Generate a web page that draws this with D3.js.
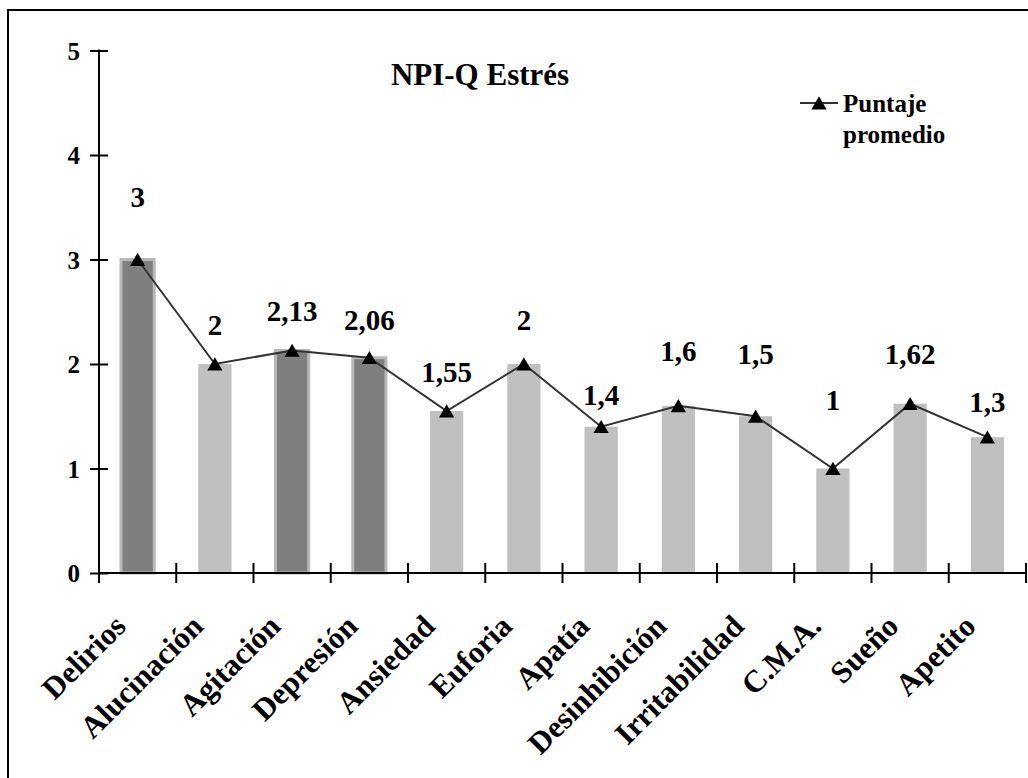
<!DOCTYPE html>
<html>
<head>
<meta charset="utf-8">
<script src="https://cdn.jsdelivr.net/npm/d3@7"></script>
<style>
  body { margin: 0; background: #fff; }
</style>
</head>
<body>
<svg id="chart" width="1028" height="778"></svg>
<script>
// NPI-Q: average distress score per neuropsychiatric domain
const categories = ["Delirios", "Alucinación", "Agitación", "Depresión", "Ansiedad", "Euforia",
                    "Apatía", "Desinhibición", "Irritabilidad", "C.M.A.", "Sueño", "Apetito"];
const scores = [3, 2, 2.13, 2.06, 1.55, 2, 1.4, 1.6, 1.5, 1, 1.62, 1.3];
const valueLabels = ["3", "2", "2,13", "2,06", "1,55", "2", "1,4", "1,6", "1,5", "1", "1,62", "1,3"];
// domains drawn with the darker bar shade
const highlighted = ["Delirios", "Agitación", "Depresión"];
const yTicks = [0, 1, 2, 3, 4, 5];
// vertical offset (px) of each value label baseline above its marker
const labelLift = [53, 29, 29.5, 28, 29, 34, 22, 45, 52, 59, 40, 25];

const FONT = "Liberation Serif";
const svg = d3.select("#chart");

// outer frame (left and top edges visible)
svg.append("rect")
  .attr("x", 8).attr("y", 10)
  .attr("width", 1040).attr("height", 800)
  .attr("fill", "none").attr("stroke", "#000").attr("stroke-width", 2);

const x = d3.scaleBand().domain(categories).range([99, 1026]).paddingInner(0.57).paddingOuter(0.285);
const xStep = d3.scalePoint().domain(d3.range(categories.length + 1)).range([99, 1026]);
const y = d3.scaleLinear().domain([0, 5]).range([573, 50.5]);

// bars
svg.append("g").selectAll("rect")
  .data(categories)
  .join("rect")
  .attr("x", d => x(d))
  .attr("y", (d, i) => y(scores[i]))
  .attr("width", x.bandwidth())
  .attr("height", (d, i) => y(0) - y(scores[i]))
  .attr("fill", d => highlighted.includes(d) ? "#7f7f7f" : "#c0c0c0")
  .attr("stroke", d => highlighted.includes(d) ? "#b8b8b8" : "none")
  .attr("stroke-width", 3);

// y axis
const yAxis = svg.append("g").attr("transform", "translate(99,0)")
  .call(d3.axisLeft(y).tickValues(yTicks).tickSize(9).tickFormat(d3.format("d")));
yAxis.attr("font-family", FONT).attr("font-size", 25);
yAxis.select(".domain").remove();
yAxis.append("line").attr("y1", y(5) - 1).attr("y2", 583).attr("stroke", "#000").attr("stroke-width", 2);
yAxis.selectAll(".tick line").attr("x2", 9).attr("x1", -9).attr("stroke", "#000").attr("stroke-width", 2);
yAxis.selectAll(".tick text").attr("x", -19).attr("dy", "0.35em").attr("fill", "#000")
  .attr("font-family", FONT).attr("font-weight", "bold").attr("font-size", 25);

// x axis with ticks between categories
const xAxis = svg.append("g");
xAxis.append("line").attr("x1", 99).attr("x2", 1026).attr("y1", y(0)).attr("y2", y(0))
  .attr("stroke", "#000").attr("stroke-width", 2);
xAxis.selectAll("line.tick")
  .data(xStep.domain())
  .join("line").attr("class", "tick")
  .attr("x1", d => xStep(d)).attr("x2", d => xStep(d))
  .attr("y1", y(0) - 10).attr("y2", y(0) + 10)
  .attr("stroke", "#000").attr("stroke-width", 2);

// category labels, rotated
svg.append("g").selectAll("text")
  .data(categories)
  .join("text")
  .attr("transform", d => `translate(${x(d) + x.bandwidth() / 2 - 10},628) rotate(-45)`)
  .attr("text-anchor", "end")
  .attr("font-family", FONT).attr("font-weight", "bold").attr("font-size", 31)
  .text(d => d);

// average line with triangle markers
const cx = d => x(d) + x.bandwidth() / 2;
svg.append("path")
  .datum(categories)
  .attr("d", d3.line().x(cx).y((d, i) => y(scores[i])))
  .attr("fill", "none").attr("stroke", "#333").attr("stroke-width", 2);

const tri = d3.symbol().type(d3.symbolTriangle).size(100);
svg.append("g").selectAll("path")
  .data(categories)
  .join("path")
  .attr("d", tri)
  .attr("transform", (d, i) => `translate(${cx(d)},${y(scores[i]) + 2})`)
  .attr("fill", "#000");

// value labels
svg.append("g").selectAll("text")
  .data(categories)
  .join("text")
  .attr("x", cx)
  .attr("y", (d, i) => y(scores[i]) - labelLift[i])
  .attr("text-anchor", "middle")
  .attr("font-family", FONT).attr("font-weight", "bold").attr("font-size", 29)
  .text((d, i) => valueLabels[i]);

// title
svg.append("text").attr("x", 480).attr("y", 85).attr("text-anchor", "middle")
  .attr("font-family", FONT).attr("font-weight", "bold").attr("font-size", 31)
  .text("NPI-Q Estrés");

// legend
const lg = svg.append("g").attr("font-family", FONT).attr("font-weight", "bold").attr("font-size", 25);
lg.append("line").attr("x1", 800).attr("x2", 838).attr("y1", 103).attr("y2", 103)
  .attr("stroke", "#333").attr("stroke-width", 2);
lg.append("path").attr("d", tri).attr("transform", "translate(819,105)").attr("fill", "#000");
lg.append("text").attr("x", 843).attr("y", 112).text("Puntaje");
lg.append("text").attr("x", 843).attr("y", 143).text("promedio");
</script>
</body>
</html>
